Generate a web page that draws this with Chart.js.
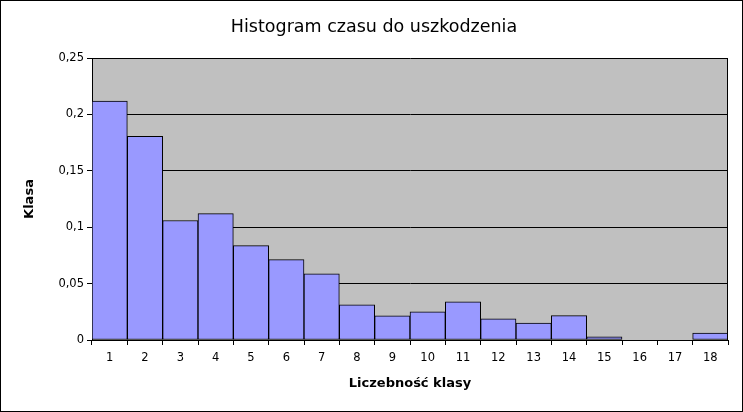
<!DOCTYPE html>
<html>
<head>
<meta charset="utf-8">
<script src="https://cdn.jsdelivr.net/npm/chart.js@4"></script>
<style>
html,body{margin:0;padding:0;background:#fff;}
#wrap{width:743px;height:412px;position:relative;}
</style>
</head>
<body>
<div id="wrap"><canvas id="c" width="743" height="412"></canvas></div>
<script>
const categories = ['1','2','3','4','5','6','7','8','9','10','11','12','13','14','15','16','17','18'];
const values = [0.2117,0.1806,0.1059,0.1121,0.0836,0.0712,0.0587,0.0311,0.0214,0.0249,0.0338,0.0187,0.0151,0.0216,0.0027,0,0,0.0062];
const chartTitle = 'Histogram czasu do uszkodzenia';
const xTitle = 'Liczebność klasy';
const yTitle = 'Klasa';

const FONT = 'DejaVu Sans';

const bgPlugin = {
  id: 'bg',
  beforeDraw(chart) {
    const ctx = chart.ctx, a = chart.chartArea;
    ctx.save();
    ctx.fillStyle = '#ffffff';
    ctx.fillRect(0, 0, chart.width, chart.height);
    ctx.fillStyle = '#c0c0c0';
    ctx.fillRect(a.left, a.top, a.right - a.left, a.bottom - a.top);
    ctx.restore();
  },
  afterDraw(chart) {
    const ctx = chart.ctx, a = chart.chartArea;
    ctx.save();
    ctx.strokeStyle = '#000';
    ctx.lineWidth = 1;
    ctx.beginPath();
    ctx.moveTo(Math.round(a.right) - 0.5, a.top);
    ctx.lineTo(Math.round(a.right) - 0.5, a.bottom);
    ctx.stroke();
    ctx.strokeRect(0.5, 0.5, chart.width - 1, chart.height - 1);
    ctx.restore();
  }
};

new Chart(document.getElementById('c'), {
  type: 'bar',
  data: {
    labels: categories,
    datasets: [{
      data: values,
      backgroundColor: '#9999ff',
      borderColor: '#000000',
      borderWidth: 1,
      borderSkipped: false,
      categoryPercentage: 1.0,
      barPercentage: 1.0
    }]
  },
  options: {
    responsive: false,
    animation: false,
    devicePixelRatio: 1,
    layout: { padding: { left: 20, right: 15, top: 0, bottom: 0 } },
    plugins: {
      legend: { display: false },
      tooltip: { enabled: false },
      title: {
        display: true,
        text: chartTitle,
        color: '#000',
        font: { family: FONT, size: 17.5, weight: 'normal', lineHeight: 1.2 },
        padding: { top: 17, bottom: 20 }
      }
    },
    scales: {
      x: {
        offset: true,
        grid: { display: true, drawOnChartArea: false, drawTicks: true, tickLength: 5, color: '#000', offset: true },
        border: { display: true, color: '#000', width: 1 },
        ticks: { color: '#000', font: { family: FONT, size: 11.5 }, maxRotation: 0, autoSkip: false, padding: 6 },
        title: { display: true, text: xTitle, color: '#000', font: { family: FONT, size: 13, weight: 'bold', lineHeight: 1.2 }, padding: { top: 0, bottom: 21 } },
        afterFit(scale) { scale.height = 72; }
      },
      y: {
        min: 0, max: 0.25,
        ticks: {
          stepSize: 0.05, color: '#000', font: { family: FONT, size: 11.5 }, padding: 3,
          callback: (v) => String(Number(Number(v).toFixed(2))).replace('.', ',')
        },
        grid: { color: '#000', drawTicks: true, tickLength: 5, lineWidth: 1 },
        border: { display: true, color: '#000', width: 1 },
        title: { display: true, text: yTitle, color: '#000', font: { family: FONT, size: 13, weight: 'bold', lineHeight: 1.2 }, padding: { top: 2, bottom: 0 } },
        afterFit(scale) { scale.width = 72; }
      }
    }
  },
  plugins: [bgPlugin]
});
</script>
</body>
</html>
